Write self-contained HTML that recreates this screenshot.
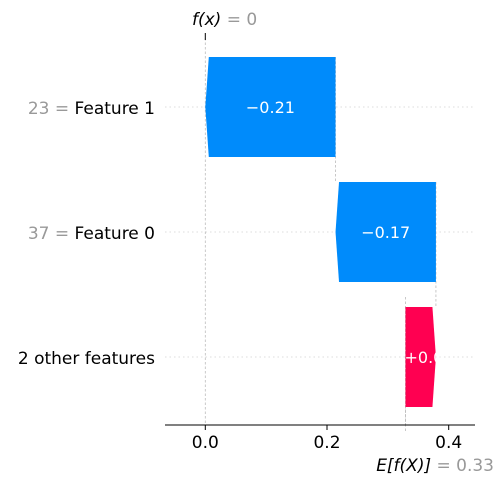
<!DOCTYPE html>
<html><head><meta charset="utf-8"><style>
html,body{margin:0;padding:0;background:#fff;}
svg{display:block;font-family:"DejaVu Sans","Liberation Sans",sans-serif;}
</style></head><body>
<svg id="chart" width="503" height="485" viewBox="0 0 503 485">
<g id="grid"></g>
<g id="bars"></g>
<g id="axis"></g>
<g id="labels"></g>
</svg>
<script>
const features = ["Feature 1", "Feature 0", "2 other features"];
const featureValues = ["23", "37", ""];
const shapValues = [-0.214, -0.165, 0.05];
const valueLabels = ["\u22120.21", "\u22120.17", "+0.0"];
const baseValue = 0.329;
const fxValue = 0;
const tickValues = [0, 0.2, 0.4];
const tickLabels = ["0.0", "0.2", "0.4"];

const NS = "http://www.w3.org/2000/svg";
const x = v => 205.3 + v * 608.5;
const rowY = i => 107 + i * 125;
const barH = 100;
function mk(tag, attrs, parent, text) {
  const e = document.createElementNS(NS, tag);
  for (const k in attrs) e.setAttribute(k, attrs[k]);
  if (text !== undefined) e.textContent = text;
  parent.appendChild(e);
  return e;
}
const grid = document.getElementById('grid');
const bars = document.getElementById('bars');
const axis = document.getElementById('axis');
const labels = document.getElementById('labels');

const n = features.length;
const starts = [], ends = [];
let cur = baseValue;
for (let i = n - 1; i >= 0; i--) { starts[i] = cur; cur += shapValues[i]; ends[i] = cur; }

for (let i = 0; i < n; i++) {
  const g = mk('line', {x1:165, x2:475, y1:rowY(i), y2:rowY(i), stroke:'#ddd', 'stroke-dasharray':'1.5,3', 'stroke-width':1}, grid);
  
  
}
const vl = (xv, y1, y2) => {
  const l = mk('line', {x1:x(xv), x2:x(xv), y1:y1, y2:y2, stroke:'#bbb', 'stroke-dasharray':'2.5,2', 'stroke-width':0.8}, grid);
  
  
};
vl(fxValue, 38, 425);
vl(baseValue, rowY(n-1) - 60, 425);
for (let i = 0; i < n; i++) {
  vl(starts[i], rowY(i) - barH/2, rowY(i) + barH/2 + 25);
}
mk('line', {x1:x(fxValue), x2:x(fxValue), y1:33, y2:40, stroke:'#000', 'stroke-width':1}, grid);

for (let i = 0; i < n; i++) {
  const s = starts[i], e = ends[i], yc = rowY(i), t = yc - barH/2, b = yc + barH/2;
  const pos = shapValues[i] > 0;
  const head = 3.5;
  const x0 = x(s), x1 = x(e);
  const pts = pos ? [[x0,t],[x1-head,t],[x1,yc],[x1-head,b],[x0,b]]
                  : [[x0,t],[x1+head,t],[x1,yc],[x1+head,b],[x0,b]];
  const p = mk('polygon', {points: pts.map(q => q.join(',')).join(' '), fill: pos ? '#ff0051' : '#008bfb'}, bars);
  
  
  const tx = mk('text', {x: pos ? x(s) - 1 : (x(s)+x(e))/2, y:yc + 6, 'text-anchor': pos ? 'start' : 'middle', fill:'#fff', 'font-size':16}, bars, valueLabels[i]);
  
  
  const yl = mk('text', {x:155, y:yc + 7, 'text-anchor':'end', 'font-size':17, fill:'#000'}, labels);
  
  
  if (featureValues[i] !== '') {
    mk('tspan', {fill:'#999'}, yl, featureValues[i] + ' = ');
  }
  mk('tspan', {}, yl, features[i]);
}

const al = mk('line', {x1:165, x2:475, y1:425, y2:425, stroke:'#000', 'stroke-width':1}, axis);


for (let k = 0; k < tickValues.length; k++) {
  mk('line', {x1:x(tickValues[k]), x2:x(tickValues[k]), y1:425, y2:430, stroke:'#000'}, axis);
  const tl = mk('text', {x:x(tickValues[k]), y:448, 'text-anchor':'middle', 'font-size':17, fill:'#000'}, axis, tickLabels[k]);
  
  
}
const ef = mk('text', {x:494, y:471, 'text-anchor':'end', 'font-size':17}, labels);


mk('tspan', {fill:'#000', 'font-style':'italic'}, ef, 'E[f(X)]');
mk('tspan', {fill:'#999'}, ef, ' = ' + baseValue.toFixed(2));
const fx = mk('text', {x:192, y:25, 'font-size':17}, labels);


mk('tspan', {fill:'#000', 'font-style':'italic'}, fx, 'f(x)');
mk('tspan', {fill:'#999'}, fx, ' = ' + fxValue);
</script>
</body></html>
